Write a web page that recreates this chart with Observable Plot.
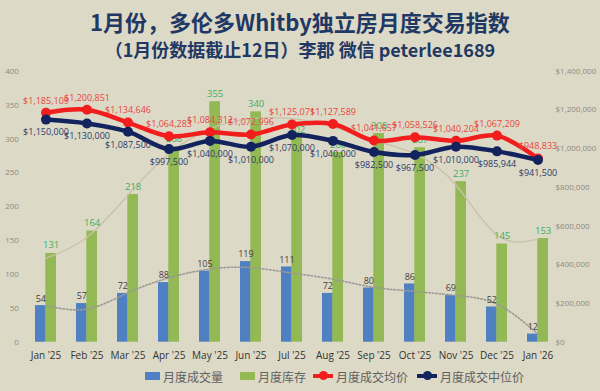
<!DOCTYPE html>
<html>
<head>
<meta charset="utf-8">
<script src="https://cdn.jsdelivr.net/npm/d3@7"></script>
<script src="https://cdn.jsdelivr.net/npm/@observablehq/plot@0.6"></script>
<style>
  html, body { margin: 0; padding: 0; }
  body { width: 600px; height: 391px; background: #ddd9c7; position: relative; overflow: hidden;
         font-family: "Noto Sans CJK SC", "Open Sans", sans-serif; }
  .title { position: absolute; left: 0; width: 600px; text-align: center; color: #1f3864; font-weight: 700; white-space: nowrap; }
  #t1 { top: 6px; font-size: 22px; line-height: 30px; }
  #t2 { top: 36px; font-size: 18px; line-height: 26px; }
  #chart { position: absolute; left: 0; top: 58px; }
  #legend { position: absolute; top: 366px; left: 0; width: 600px; height: 20px; font-size: 12px; color: #606060; }
  .li { position: absolute; top: 0; height: 20px; display: flex; align-items: center; white-space: nowrap; }
  .sw { display: inline-block; width: 15px; height: 8px; margin-right: 3px; }
  .ln { position: relative; display: inline-block; width: 20px; height: 4px; margin-right: 3px; }
  .ln i { position: absolute; left: 6px; top: -3px; width: 9px; height: 9px; border-radius: 50%; }
</style>
</head>
<body>
<div class="title" id="t1">1月份，多伦多Whitby独立房月度交易指数</div>
<div class="title" id="t2">（1月份数据截止12日）李郡 微信 peterlee1689</div>
<div id="chart"></div>
<div id="legend"></div>
<script>
const months = ["Jan '25","Feb '25","Mar '25","Apr '25","May '25","Jun '25","Jul '25","Aug '25","Sep '25","Oct '25","Nov '25","Dec '25","Jan '26"];
const sales = [54, 57, 72, 88, 105, 119, 111, 72, 80, 86, 69, 52, 12];
const inventory = [131, 164, 218, 288, 355, 340, 302, 280, 308, 287, 237, 145, 153];
const avgPrice = [1185109, 1200851, 1134646, 1064283, 1084312, 1072996, 1125071, 1127589, 1041657, 1058526, 1040204, 1067209, 948833];
const medianPrice = [1150000, 1130000, 1087500, 997500, 1040000, 1010000, 1070000, 1040000, 982500, 967500, 1010000, 985944, 941500];
const salesTrend = [54, 49, 73, 95, 108, 110, 102, 93, 81, 75, 69, 56, 12];
const inventoryTrend = [124, 155, 217, 278, 315, 330, 330, 318, 298, 278, 232, 158, 152];
const leftTicks = [0, 50, 100, 150, 200, 250, 300, 350, 400];
const rightTicks = [0, 200000, 400000, 600000, 800000, 1000000, 1200000, 1400000];
const seriesNames = ["月度成交量", "月度库存", "月度成交均价", "月度成交中位价"];
const colors = ["#4f80c1", "#93b955", "#f21d1d", "#13235e"];

const k = rightTicks[rightTicks.length - 1] / leftTicks[leftTicks.length - 1];
const rows = months.map((m, i) => ({
  month: m, sales: sales[i], inventory: inventory[i],
  avg: avgPrice[i] / k, median: medianPrice[i] / k,
  avgRaw: avgPrice[i], medianRaw: medianPrice[i],
  sTrend: salesTrend[i], iTrend: inventoryTrend[i]
}));
const money = d3.format("$,");
const half = 10.3;

const chart = Plot.plot({
  width: 600,
  height: 310,
  marginLeft: 23.4,
  marginRight: 41,
  marginTop: 12.7,
  marginBottom: 26.3,
  style: { background: "transparent", fontFamily: "'Open Sans', 'Liberation Sans', sans-serif" },
  x: { type: "band", domain: months, paddingInner: 0.5, paddingOuter: 0.25 },
  y: { domain: [0, 400] },
  marks: [
    Plot.axisY(leftTicks, { anchor: "left", tickSize: 0, tickPadding: 5, fontSize: 8, color: "#8c8a80", label: null }),
    Plot.text(rightTicks, { y: d => d / k, text: d => money(d), frameAnchor: "right", textAnchor: "start", dx: -4, fontSize: 8, fill: "#8c8a80" }),
    Plot.axisX({ tickSize: 0, tickPadding: 10, fontSize: 10, color: "#333", label: null }),
    Plot.barY(rows, { x: "month", y: "sales", fill: colors[0], insetRight: half }),
    Plot.barY(rows, { x: "month", y: "inventory", fill: colors[1], insetLeft: half }),
    Plot.line(rows, { x: "month", y: "iTrend", stroke: "#c9c1a6", strokeWidth: 1.3, curve: "natural" }),
    Plot.line(rows, { x: "month", y: "sTrend", stroke: "#9a9a94", strokeWidth: 1.6, strokeDasharray: "1.5 2", curve: "natural" }),
    Plot.text(rows, { x: "month", y: "sales", text: "sales", dx: -half / 2, dy: -7, fontSize: 9, fill: "#404040" }),
    Plot.text(rows, { x: "month", y: "inventory", text: "inventory", dx: half / 2, dy: -8, fontSize: 9.5, fill: "#3fae62" }),
    Plot.line(rows, { x: "month", y: "avg", stroke: colors[2], strokeWidth: 4.5, curve: "catmull-rom" }),
    Plot.dot(rows, { x: "month", y: "avg", r: 5, fill: colors[2] }),
    Plot.line(rows, { x: "month", y: "median", stroke: colors[3], strokeWidth: 4.5, curve: "catmull-rom" }),
    Plot.dot(rows, { x: "month", y: "median", r: 5, fill: colors[3] }),
    Plot.text(rows, { x: "month", y: "avg", text: d => money(d.avgRaw), dy: -12, fontSize: 9, fill: "#e8453c" }),
    Plot.text(rows, { x: "month", y: "median", text: d => money(d.medianRaw), dy: 13, fontSize: 9, fill: "#2a3a68" })
  ]
});
document.getElementById("chart").appendChild(chart);

const lg = document.getElementById("legend");
const lx = [145, 240, 313, 417];
seriesNames.forEach((name, i) => {
  const item = document.createElement("div");
  item.className = "li";
  item.style.left = lx[i] + "px";
  if (i < 2) {
    item.innerHTML = `<span class="sw" style="background:${colors[i]}"></span>${name}`;
  } else {
    item.innerHTML = `<span class="ln" style="background:${colors[i]}"><i style="background:${colors[i]}"></i></span>${name}`;
  }
  lg.appendChild(item);
});
</script>
</body>
</html>
